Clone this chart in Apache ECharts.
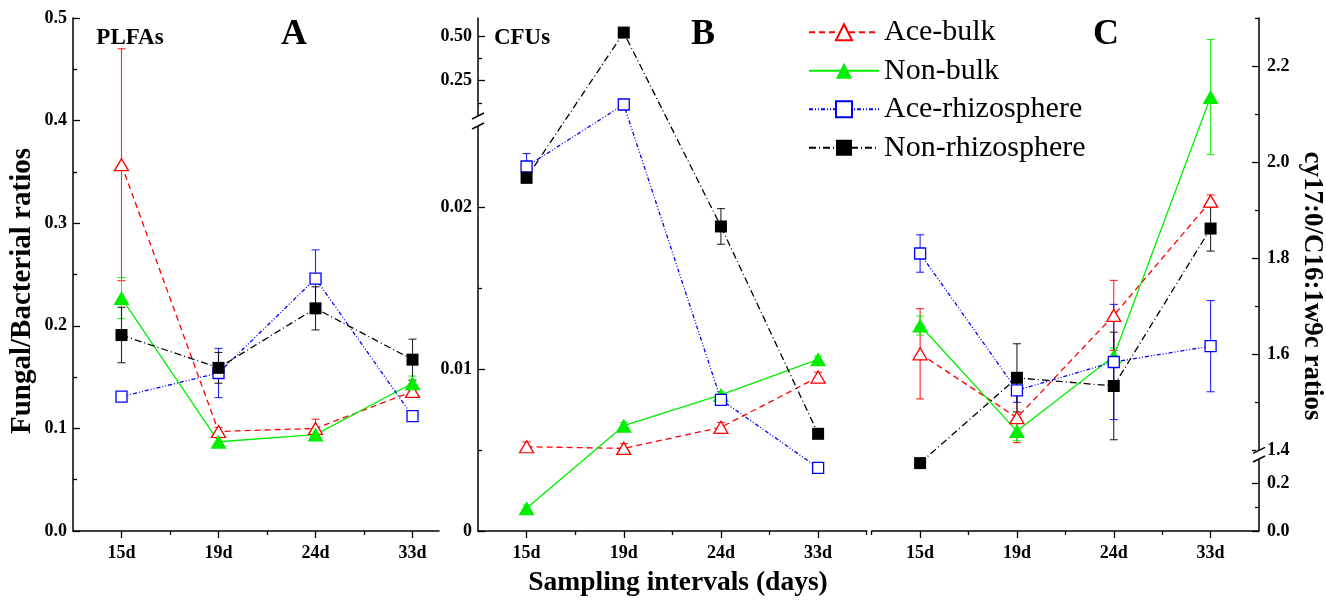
<!DOCTYPE html>
<html><head><meta charset="utf-8">
<script src="https://cdn.jsdelivr.net/npm/echarts@6/dist/echarts.min.js"></script>
<style>html,body{margin:0;padding:0;background:#fff}#c{width:1326px;height:600px}</style>
</head><body><div id="c"></div>
<script>
// ---------------- DATA ----------------
const categories = ['15d', '19d', '24d', '33d'];
const seriesNames = ['Ace-bulk', 'Non-bulk', 'Ace-rhizosphere', 'Non-rhizosphere'];

// Panel A : PLFAs fungal/bacterial ratios
const aceBulkA = [0.357, 0.097, 0.100, 0.136];
const aceBulkAErr = [0.113, 0.004, 0.009, 0.005];
const nonBulkA = [0.227, 0.087, 0.094, 0.144];
const nonBulkAErr = [0.020, 0.004, 0.004, 0.007];
const aceRhizoA = [0.131, 0.154, 0.246, 0.112];
const aceRhizoAErr = [0.003, 0.024, 0.028, 0.004];
const nonRhizoA = [0.191, 0.159, 0.217, 0.167];
const nonRhizoAErr = [0.027, 0.015, 0.021, 0.020];

// Panel B : CFUs fungal/bacterial ratios (broken axis)
const aceBulkB = [0.0052, 0.0051, 0.0064, 0.0095];
const aceBulkBErr = [0.0003, 0.0003, 0.0003, 0.0003];
const nonBulkB = [0.0014, 0.0065, 0.0084, 0.0106];
const nonBulkBErr = [0.0002, 0.0002, 0.0002, 0.0002];
const aceRhizoB = [0.0225, 0.115, 0.0081, 0.0039];
const aceRhizoBErr = [0.0008, 0.008, 0.0002, 0.0002];
const nonRhizoB = [0.0218, 0.521, 0.0188, 0.0060];
const nonRhizoBErr = [0.0003, 0.005, 0.0011, 0.0002];

// Panel C : cy17:0/C16:1w9c ratios (broken axis)
const aceBulkC = [1.601, 1.468, 1.681, 1.919];
const aceBulkCErr = [0.094, 0.052, 0.073, 0.013];
const nonBulkC = [1.660, 1.440, 1.596, 2.136];
const nonBulkCErr = [0.020, 0.020, 0.017, 0.120];
const aceRhizoC = [1.810, 1.525, 1.584, 1.617];
const aceRhizoCErr = [0.039, 0.025, 0.120, 0.095];
const nonRhizoC = [0.283, 1.551, 1.534, 1.862];
const nonRhizoCErr = [0.005, 0.071, 0.112, 0.047];

// tick labels
const tickValuesA = [0, 0.1, 0.2, 0.3, 0.4, 0.5];
const minorValuesA = [0.05, 0.15, 0.25, 0.35, 0.45];
const tickValuesB = [0, 0.01, 0.02, 0.25, 0.5];
const tickLabelsB = ['0', '0.01', '0.02', '0.25', '0.50'];
const minorValuesB = [0.005, 0.015, 0.125, 0.375];
const tickValuesC = [0, 0.2, 1.4, 1.6, 1.8, 2.0, 2.2];
const tickLabelsC = ['0.0', '0.2', '1.4', '1.6', '1.8', '2.0', '2.2'];
const minorValuesC = [0.1, 1.5, 1.7, 1.9, 2.1, 2.3];

// ---------------- AXIS SCALES ----------------
const DISP_MAX = 513;
function dispA(v) { return v * DISP_MAX / 0.5; }
// broken axes: lower and upper segments use different scales
function dispB(v) { return v <= 0.03 ? v * 16200 : 406.1 + v * 177.2; }
function dispC(v) { return v <= 0.5 ? v * 240 : 80.7 + (v - 1.4) * 480; }

// ---------------- STYLES ----------------
const FONT = "'Liberation Serif','Times New Roman',serif";
const styles = [
  { color: '#ff0000', symbol: 'triangle', size: [14, 12], open: true, dash: [6, 4] },
  { color: '#00ee00', symbol: 'triangle', size: [16, 14], open: false, dash: 'solid' },
  { color: '#0000ff', symbol: 'rect', size: [11, 11], open: true, dash: [4, 2, 1, 2, 1, 2] },
  { color: '#000000', symbol: 'rect', size: [12, 12], open: false, dash: [7, 3, 1, 3] }
];

const panels = [
  { vals: [aceBulkA, nonBulkA, aceRhizoA, nonRhizoA], errs: [aceBulkAErr, nonBulkAErr, aceRhizoAErr, nonRhizoAErr], disp: dispA, x: 0, y: 0 },
  { vals: [aceBulkB, nonBulkB, aceRhizoB, nonRhizoB], errs: [aceBulkBErr, nonBulkBErr, aceRhizoBErr, nonRhizoBErr], disp: dispB, x: 2, y: 2 },
  { vals: [aceBulkC, nonBulkC, aceRhizoC, nonRhizoC], errs: [aceBulkCErr, nonBulkCErr, aceRhizoCErr, nonRhizoCErr], disp: dispC, x: 4, y: 4 }
];

const labelStyle = { fontFamily: FONT, fontWeight: 'bold', fontSize: 18, color: '#000' };
const axisLineStyle = { show: true, onZero: false, lineStyle: { color: '#000', width: 1.5 } };

function xAxisPair(grid, min, max, minorVals) {
  return [
    { type: 'value', gridIndex: grid, position: 'bottom', min: min, max: max, axisLine: axisLineStyle,
      axisTick: { show: true, customValues: [0, 1, 2, 3], length: 7, lineStyle: { color: '#000', width: 1.3 } },
      axisLabel: Object.assign({ customValues: [0, 1, 2, 3], margin: 13, formatter: v => categories[Math.round(v)] }, labelStyle),
      splitLine: { show: false } },
    { type: 'value', gridIndex: grid, position: 'bottom', min: min, max: max, axisLine: { show: false, onZero: false },
      axisTick: { show: true, customValues: minorVals, length: 4, lineStyle: { color: '#000', width: 1.3 } },
      axisLabel: { show: false }, splitLine: { show: false } }
  ];
}

function yAxisPair(grid, pos, tickVals, tickLabels, minorVals, disp, margin) {
  const dv = tickVals.map(disp);
  return [
    { type: 'value', gridIndex: grid, position: pos, min: 0, max: DISP_MAX, axisLine: axisLineStyle,
      axisTick: { show: true, inside: true, customValues: dv, length: 7, lineStyle: { color: '#000', width: 1.3 } },
      axisLabel: Object.assign({ customValues: dv, margin: margin, formatter: function (v) {
        let best = 0; for (let i = 1; i < dv.length; i++) if (Math.abs(dv[i] - v) < Math.abs(dv[best] - v)) best = i;
        return tickLabels[best]; } }, labelStyle),
      splitLine: { show: false } },
    { type: 'value', gridIndex: grid, position: pos, min: 0, max: DISP_MAX, axisLine: { show: false, onZero: false },
      axisTick: { show: true, inside: true, customValues: minorVals.map(disp), length: 4, lineStyle: { color: '#000', width: 1.3 } },
      axisLabel: { show: false }, splitLine: { show: false } }
  ];
}

const xAxes = [].concat(
  xAxisPair(0, -0.5, 3.273, [0.5, 1.5, 2.5]),
  xAxisPair(1, -0.5, 3.5, [0.5, 1.5, 2.5, 3.5]),
  xAxisPair(2, -0.5, 3.5, [-0.5, 0.5, 1.5, 2.5])
);
const yAxes = [].concat(
  yAxisPair(0, 'left', tickValuesA, tickValuesA.map(v => v.toFixed(1)), minorValuesA, dispA, 6),
  yAxisPair(1, 'left', tickValuesB, tickLabelsB, minorValuesB, dispB, 6),
  yAxisPair(2, 'right', tickValuesC, tickLabelsC, minorValuesC, dispC, 8)
);

const series = [];
panels.forEach(function (p) {
  // error bars
  p.vals.forEach(function (vals, s) {
    const st = styles[s];
    series.push({
      type: 'custom', xAxisIndex: p.x, yAxisIndex: p.y, z: 2, silent: true,
      encode: { x: 0, y: [1, 2] },
      data: categories.map((c, i) => [i, p.disp(vals[i] - p.errs[s][i]), p.disp(vals[i] + p.errs[s][i])]),
      renderItem: function (params, api) {
        const a = api.coord([api.value(0), api.value(1)]);
        const b = api.coord([api.value(0), api.value(2)]);
        const w = 4;
        const style = { stroke: st.color, lineWidth: 1.1, opacity: 0.85 };
        return { type: 'group', children: [
          { type: 'line', shape: { x1: a[0], y1: a[1], x2: b[0], y2: b[1] }, style: style },
          { type: 'line', shape: { x1: a[0] - w, y1: a[1], x2: a[0] + w, y2: a[1] }, style: style },
          { type: 'line', shape: { x1: b[0] - w, y1: b[1], x2: b[0] + w, y2: b[1] }, style: style }
        ] };
      }
    });
  });
  // lines
  p.vals.forEach(function (vals, s) {
    const st = styles[s];
    series.push({
      type: 'line', name: seriesNames[s], xAxisIndex: p.x, yAxisIndex: p.y, z: 3,
      data: categories.map((c, i) => [i, p.disp(vals[i])]),
      symbol: st.symbol, symbolSize: st.size, showAllSymbol: true,
      lineStyle: { color: st.color, width: 1.3, type: st.dash },
      itemStyle: st.open ? { color: '#ffffff', borderColor: st.color, borderWidth: 1.3 } : { color: st.color, borderColor: st.color, borderWidth: 0 },
      emphasis: { disabled: true }, animation: false
    });
  });
});

const chart = echarts.init(document.getElementById('c'), null, { renderer: 'canvas' });
chart.setOption({
  animation: false,
  backgroundColor: '#ffffff',
  grid: [
    { left: 73, top: 18, width: 366, height: 513 },
    { left: 478, top: 18, width: 388.7, height: 513 },
    { left: 871.7, top: 18, width: 387.3, height: 513 }
  ],
  xAxis: xAxes,
  yAxis: yAxes,
  legend: {
    data: seriesNames, orient: 'vertical', left: 808, top: 13, padding: 0,
    itemWidth: 70, itemHeight: 20, itemGap: 0,
    textStyle: { fontFamily: FONT, fontSize: 30, lineHeight: 38.5, color: '#000' },
    selectedMode: false
  },
  series: series
});

// ---------------- TEXTS & AXIS BREAK MARKS ----------------
const g = [];
function txt(x, y, text, size, rot) {
  g.push({ type: 'text', x: x, y: y, rotation: rot || 0, silent: true,
    style: { text: text, fontFamily: FONT, fontWeight: 'bold', fontSize: size, fill: '#000', align: 'center', verticalAlign: 'middle' } });
}
txt(294, 35, 'A', 36); txt(703, 35, 'B', 36); txt(1106, 35, 'C', 36);
txt(130, 38, 'PLFAs', 23); txt(522, 38, 'CFUs', 23);
txt(678, 583, 'Sampling intervals (days)', 27.5);
txt(23, 291, 'Fungal/Bacterial ratios', 29, Math.PI / 2);
txt(1312, 286, 'cy17:0/C16:1w9c ratios', 27, -Math.PI / 2);

function breakMark(xAxisIdx, xVal, yAxisIdx, lo, hi) {
  const x = chart.convertToPixel({ xAxisIndex: xAxisIdx }, xVal);
  const y1 = chart.convertToPixel({ yAxisIndex: yAxisIdx }, lo);
  const y2 = chart.convertToPixel({ yAxisIndex: yAxisIdx }, hi);
  g.push({ type: 'rect', shape: { x: x - 3, y: y2, width: 6, height: y1 - y2 }, style: { fill: '#fff' }, z: 100, silent: true });
  [y1, y2].forEach(function (yy) {
    g.push({ type: 'line', shape: { x1: x - 6, y1: yy + 3, x2: x + 6, y2: yy - 3 }, style: { stroke: '#000', lineWidth: 1.5 }, z: 101, silent: true });
  });
}
breakMark(2, -0.5, 2, dispB(0.025), dispB(0.05));
breakMark(4, 3.5, 4, dispC(0.3), dispC(1.4));
chart.setOption({ graphic: g });
</script>
</body></html>
